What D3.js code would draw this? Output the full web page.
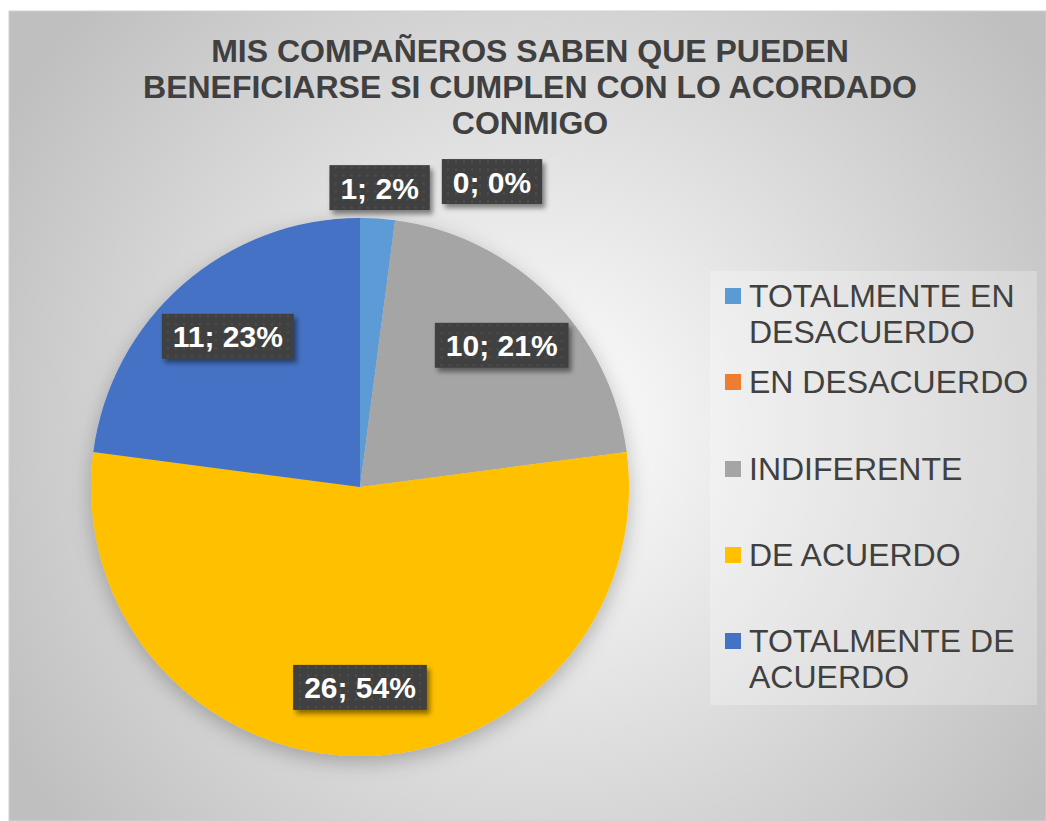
<!DOCTYPE html>
<html>
<head>
<meta charset="utf-8">
<script src="https://cdn.jsdelivr.net/npm/d3@7"></script>
<style>
  html, body { margin: 0; padding: 0; background: #fff; }
  svg { display: block; font-family: "Liberation Sans", Arial, sans-serif; }
</style>
</head>
<body>
<svg id="chart"></svg>
<script>
const categories = ["TOTALMENTE EN DESACUERDO", "EN DESACUERDO", "INDIFERENTE", "DE ACUERDO", "TOTALMENTE DE ACUERDO"]
const legendLines = [["TOTALMENTE EN", "DESACUERDO"], ["EN DESACUERDO"], ["INDIFERENTE"], ["DE ACUERDO"], ["TOTALMENTE DE", "ACUERDO"]]
const values = [1, 0, 10, 26, 11]
const colors = ["#5B9BD5", "#ED7D31", "#A5A5A5", "#FFC000", "#4472C4"]
const titleLines = ["MIS COMPAÑEROS SABEN QUE PUEDEN", "BENEFICIARSE SI CUMPLEN CON LO ACORDADO", "CONMIGO"]

const W = 1046, H = 821
const svg = d3.select("#chart").attr("width", W).attr("height", H)
const defs = svg.append("defs")

// background gradient of the chart area
const bg = defs.append("radialGradient").attr("id", "bg")
  .attr("gradientUnits", "userSpaceOnUse")
  .attr("cx", 540).attr("cy", 430).attr("r", 620)
bg.append("stop").attr("offset", 0).attr("stop-color", "#ffffff")
bg.append("stop").attr("offset", 1).attr("stop-color", "#bfbfbf")

// dotted texture of label boxes
const pat = defs.append("pattern").attr("id", "dots")
  .attr("patternUnits", "userSpaceOnUse").attr("width", 8).attr("height", 8)
pat.append("rect").attr("width", 8).attr("height", 8).attr("fill", "#404040")
pat.append("circle").attr("cx", 4).attr("cy", 4).attr("r", 1.3).attr("fill", "#4d4d4d")

const sh = defs.append("filter").attr("id", "shadow")
  .attr("x", "-20%").attr("y", "-20%").attr("width", "150%").attr("height", "160%")
sh.append("feDropShadow").attr("dx", 3).attr("dy", 4).attr("stdDeviation", 2.5)
  .attr("flood-color", "#000").attr("flood-opacity", 0.45)

const pieSh = defs.append("filter").attr("id", "pieShadow")
  .attr("x", "-20%").attr("y", "-20%").attr("width", "140%").attr("height", "140%")
pieSh.append("feDropShadow").attr("dx", 0).attr("dy", 6).attr("stdDeviation", 10)
  .attr("flood-color", "#000").attr("flood-opacity", 0.25)

svg.append("rect")
  .attr("x", 9).attr("y", 11).attr("width", W - 9).attr("height", H - 11)
  .attr("fill", "url(#bg)")
  .attr("stroke", "#d0d0d0").attr("stroke-width", 1)

// title
svg.append("g").selectAll("text")
  .data(titleLines)
  .join("text")
  .attr("x", 530)
  .attr("y", (d, i) => 62 + i * 36)
  .attr("text-anchor", "middle")
  .attr("font-size", 32)
  .attr("font-weight", "bold")
  .attr("fill", "#404040")
  .text(d => d)

// pie
const cx = 360, cy = 487, radius = 269
const total = d3.sum(values)
const pie = d3.pie().sort(null).value(d => d)
const arcs = pie(values)
const arc = d3.arc().innerRadius(0).outerRadius(radius)
const labelArc = d3.arc().innerRadius(radius * 0.745).outerRadius(radius * 0.745)
const outerArc = d3.arc().innerRadius(radius + 31).outerRadius(radius + 31)

const g = svg.append("g").attr("transform", `translate(${cx},${cy})`)
g.append("g").attr("filter", "url(#pieShadow)")
  .selectAll("path")
  .data(arcs)
  .join("path")
  .attr("d", arc)
  .attr("fill", (d, i) => colors[i])

// data labels
const labels = arcs.map((d, i) => {
  const pct = Math.round(d.value / total * 100)
  const small = (d.endAngle - d.startAngle) < 0.3
  const [x, y] = small ? outerArc.centroid(d) : labelArc.centroid(d)
  return {text: `${d.value}; ${pct}%`, x, y, small}
})

const lg = g.append("g")
const items = lg.selectAll("g")
  .data(labels)
  .join("g")

items.append("rect").attr("class", "box")
items.append("text")
  .attr("text-anchor", "middle")
  .attr("font-size", 30)
  .attr("font-weight", "bold")
  .attr("fill", "#fff")
  .text(d => d.text)
  .each(function (d) { d.w = this.getComputedTextLength() + 22; d.h = 45 })

// push overlapping outside labels to the right
let prev = null
labels.forEach(d => {
  if (!d.small) return
  if (prev && d.x - d.w / 2 < prev.x + prev.w / 2 + 12) {
    d.x = prev.x + prev.w / 2 + 12 + d.w / 2
    d.y -= 8
  }
  prev = d
})

items.attr("transform", d => `translate(${d.x},${d.y})`)
items.select("rect")
  .attr("x", d => -d.w / 2).attr("y", d => -d.h / 2)
  .attr("width", d => d.w).attr("height", d => d.h)
  .attr("fill", "url(#dots)")
  .attr("filter", "url(#shadow)")
items.select("text").attr("y", 11)

// legend
const legend = svg.append("g")
legend.append("rect")
  .attr("x", 710).attr("y", 271).attr("width", 327).attr("height", 434)
  .attr("fill", "#fff").attr("fill-opacity", 0.25)

const baselines = [307, 393, 480, 566, 652]
const leg = legend.selectAll("g.item")
  .data(categories)
  .join("g").attr("class", "item")
  .attr("transform", (d, i) => `translate(725,${baselines[i]})`)

leg.append("rect")
  .attr("x", 0).attr("y", -19).attr("width", 16).attr("height", 16)
  .attr("fill", (d, i) => colors[i])

leg.append("text")
  .attr("x", 24)
  .attr("font-size", 32)
  .attr("fill", "#404040")
  .selectAll("tspan")
  .data((d, i) => legendLines[i])
  .join("tspan")
  .attr("x", 24)
  .attr("dy", (d, j) => j === 0 ? 0 : 36)
  .text(d => d)
</script>
</body>
</html>
